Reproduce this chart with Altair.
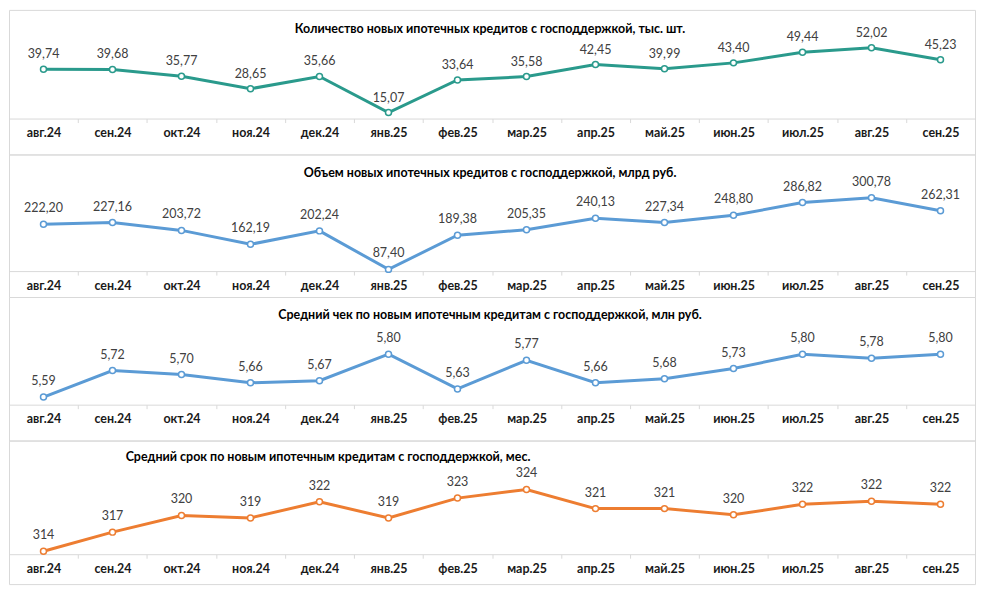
import altair as alt
import pandas as pd

FONT = "Lato"

months = ["авг.24", "сен.24", "окт.24", "ноя.24", "дек.24", "янв.25", "фев.25",
          "мар.25", "апр.25", "май.25", "июн.25", "июл.25", "авг.25", "сен.25"]

count_k = [39.74, 39.68, 35.77, 28.65, 35.66, 15.07, 33.64,
           35.58, 42.45, 39.99, 43.40, 49.44, 52.02, 45.23]
volume_bn = [222.20, 227.16, 203.72, 162.19, 202.24, 87.40, 189.38,
             205.35, 240.13, 227.34, 248.80, 286.82, 300.78, 262.31]
avg_check = [5.59, 5.72, 5.70, 5.66, 5.67, 5.80, 5.63,
             5.77, 5.66, 5.68, 5.73, 5.80, 5.78, 5.80]
avg_term = [314.0, 317.1, 319.8, 319.4, 322.0, 319.4, 322.6,
            324.0, 320.9, 320.9, 319.9, 321.6, 322.1, 321.6]

titles = [
    "Количество новых ипотечных кредитов с господдержкой, тыс. шт.",
    "Объем новых ипотечных кредитов с господдержкой, млрд руб.",
    "Средний чек по новым ипотечным кредитам с господдержкой, млн руб.",
    "Средний срок по новым ипотечным кредитам с господдержкой, мес.",
]

W = 969


def panel(title, vals, color, domain, h, axis_off, fmt, t_align, t_x, t_y, lab_dy):
    df = pd.DataFrame({"month": months, "value": vals})
    base = alt.Chart(df).encode(
        x=alt.X("month:N", sort=months,
                scale=alt.Scale(type="band", paddingInner=0, paddingOuter=0),
                axis=alt.Axis(title=None, offset=axis_off, labelAngle=0,
                              labelFont=FONT, labelFontSize=12.5, labelFontWeight="bold",
                              labelColor="#1a1a1a", domainColor="#d9d9d9",
                              tickColor="#d9d9d9", tickSize=4, tickBand="extent",
                              labelPadding=4, grid=False)),
        y=alt.Y("value:Q", scale=alt.Scale(domain=domain, zero=False, nice=False),
                axis=None),
    )
    line = base.mark_line(color=color, strokeWidth=3)
    pts = base.mark_circle(fill="white", stroke=color, strokeWidth=1.5,
                           size=36, opacity=1)
    txt = base.transform_calculate(
        label=f"replace(format(datum.value, '{fmt}'), '.', ',')"
    ).mark_text(dy=lab_dy, font=FONT, fontSize=12.5, color="#404040").encode(
        text="label:N")
    ttl = alt.Chart(pd.DataFrame({"t": [title]})).mark_text(
        font=FONT, fontSize=12.5, fontWeight="bold", color="#000000",
        align=t_align, baseline="middle"
    ).encode(text="t:N", x=alt.value(t_x), y=alt.value(t_y))
    return alt.layer(line, pts, txt, ttl).properties(width=W, height=h)


p1 = panel(titles[0], count_k, "#2a9a8c", [-8.8, 73.6], 145, -36, ".2f", "center", W / 2 - 2, 19.5, -15)
p2 = panel(titles[1], volume_bn, "#5b9bd5", [5.0, 430.3], 143, -26, ".2f", "center", W / 2 - 2, 18.5, -16)
p3 = panel(titles[2], avg_check, "#5b9bd5", [5.377, 6.080], 144, -36, ".2f", "center", W / 2 - 2, 18.5, -16)
p4 = panel(titles[3], avg_term, "#ed7d31", [308.7, 331.9], 144, -30, ".0f", "left", 117, 16.5, -16)

chart = alt.vconcat(p1, p2, p3, p4, spacing=0, bounds="flush").properties(
    padding=0, background="white"
).configure_view(stroke="#d9d9d9", strokeWidth=1)

chart.save("out.html", embed_options={"renderer": "svg", "actions": False})
